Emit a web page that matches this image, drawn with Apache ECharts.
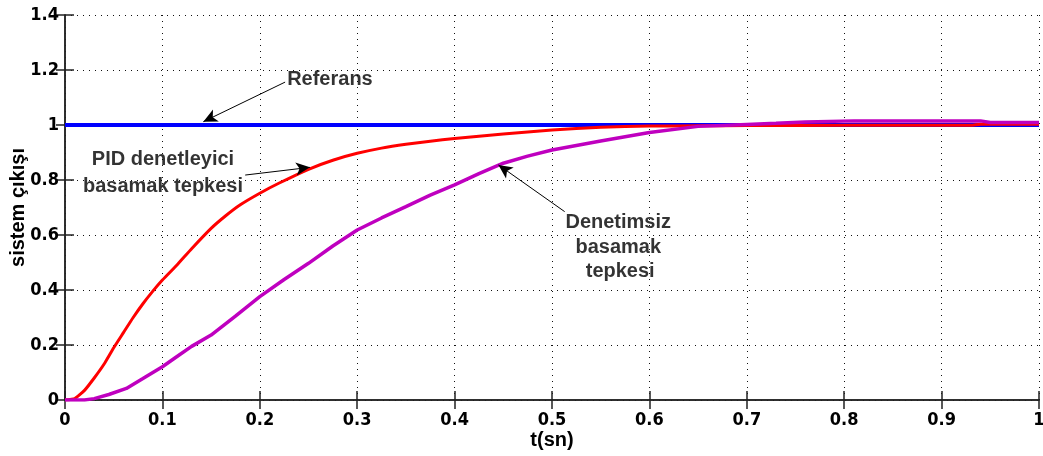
<!DOCTYPE html>
<html>
<head>
<meta charset="utf-8">
<script src="https://cdn.jsdelivr.net/npm/echarts@6/dist/echarts.min.js"></script>
<style>
  html, body { margin: 0; padding: 0; background: #fff; }
  #chart { width: 1043px; height: 456px; }
</style>
</head>
<body>
<div id="chart"></div>
<script>
// Step response: reference, PID-controlled and uncontrolled output
const refT = [0, 1];
const refV = [1, 1];

const pidT = [0, 0.01, 0.02, 0.03, 0.04, 0.05, 0.06, 0.07, 0.08, 0.09, 0.1, 0.115, 0.13, 0.15, 0.165, 0.18, 0.2, 0.22, 0.25, 0.275, 0.3, 0.325, 0.35, 0.375, 0.4, 0.45, 0.5, 0.55, 0.6, 0.65, 0.7, 0.8, 0.93, 0.94, 1];
const pidV = [0, 0.005, 0.035, 0.08, 0.13, 0.19, 0.245, 0.3, 0.35, 0.395, 0.436, 0.491, 0.55, 0.624, 0.67, 0.71, 0.752, 0.789, 0.839, 0.872, 0.897, 0.916, 0.93, 0.941, 0.951, 0.967, 0.982, 0.992, 0.996, 0.997, 0.998, 0.999, 0.999, 1.003, 1.003];

const openT = [0, 0.02, 0.03, 0.045, 0.063, 0.08, 0.1, 0.115, 0.13, 0.15, 0.175, 0.2, 0.225, 0.25, 0.275, 0.3, 0.325, 0.35, 0.375, 0.4, 0.425, 0.45, 0.475, 0.5, 0.55, 0.6, 0.65, 0.7, 0.73, 0.76, 0.81, 0.94, 0.95, 1];
const openV = [0, 0, 0.005, 0.02, 0.042, 0.078, 0.121, 0.158, 0.195, 0.236, 0.305, 0.376, 0.438, 0.497, 0.56, 0.618, 0.662, 0.703, 0.745, 0.782, 0.823, 0.861, 0.887, 0.909, 0.942, 0.973, 0.995, 1.002, 1.006, 1.011, 1.015, 1.015, 1.009, 1.009];

const xTicks = ['0', '0.1', '0.2', '0.3', '0.4', '0.5', '0.6', '0.7', '0.8', '0.9', '1'];
const yTicks = ['0', '0.2', '0.4', '0.6', '0.8', '1', '1.2', '1.4'];

const xName = 't(sn)';
const yName = 'sistem çıkışı';

// Text labels placed in data coordinates: [t, value, text]
const notes = [
  [0.272, 1.164, 'Referans'],
  [0.1006, 0.873, 'PID denetleyici'],
  [0.1006, 0.776, 'basamak tepkesi'],
  [0.568, 0.644, 'Denetimsiz'],
  [0.568, 0.554, 'basamak'],
  [0.570, 0.466, 'tepkesi']
];
// Arrows: [fromT, fromV, toT, toV]
const arrows = [
  [0.226, 1.156, 0.142, 1.012],
  [0.185, 0.818, 0.2515, 0.846],
  [0.513, 0.685, 0.445, 0.855]
];

const zip = (a, b) => a.map((v, i) => [v, b[i]]);
const tickFont = { fontFamily: "'Liberation Sans Narrow', 'DejaVu Sans Condensed', sans-serif", fontWeight: 'bold', fontSize: 18, color: '#000' };
const nameFont = { fontFamily: "'Liberation Sans', Arial, sans-serif", fontWeight: 'bold', fontSize: 20, color: '#000' };
const gridLine = { show: true, lineStyle: { color: '#111', width: 1, type: [1, 5] } };
const axisLine = { show: true, lineStyle: { color: '#222', width: 1.5 } };
const tick = { show: true, inside: true, length: 9, lineStyle: { color: '#222', width: 1.5 } };

const chart = echarts.init(document.getElementById('chart'), null, { renderer: 'canvas' });
chart.setOption({
  animation: false,
  backgroundColor: '#fff',
  grid: { left: 65, right: 4, top: 15, bottom: 56, containLabel: false, outerBoundsMode: 'none' },
  xAxis: [
    {
      type: 'value', min: 0, max: 1, interval: 0.1,
      name: xName, nameLocation: 'middle', nameGap: 30, nameTextStyle: nameFont,
      nameMoveOverlap: false,
      axisLine, axisTick: tick, splitLine: gridLine,
      axisLabel: { ...tickFont, margin: 11, formatter: (v) => xTicks[Math.round(v * 10)] }
    },
    {
      type: 'value', min: 0, max: 1, interval: 0.1, position: 'top',
      axisLine, axisTick: tick, splitLine: { show: false }, axisLabel: { show: false }
    }
  ],
  yAxis: [
    {
      type: 'value', min: 0, max: 1.4, interval: 0.2,
      name: yName, nameLocation: 'middle', nameGap: 37, nameTextStyle: nameFont,
      nameMoveOverlap: false,
      axisLine, axisTick: tick, splitLine: gridLine,
      axisLabel: { ...tickFont, margin: 6, formatter: (v) => yTicks[Math.round(v * 5)] }
    },
    {
      type: 'value', min: 0, max: 1.4, interval: 0.2, position: 'right',
      axisLine, axisTick: tick, splitLine: { show: false }, axisLabel: { show: false }
    }
  ],
  series: [
    {
      name: 'Referans', type: 'line', data: zip(refT, refV), showSymbol: false,
      lineStyle: { color: '#0000ff', width: 4 }, z: 2
    },
    {
      name: 'PID', type: 'line', data: zip(pidT, pidV), showSymbol: false, smooth: 0.15,
      lineStyle: { color: '#ff0000', width: 3 }, z: 3
    },
    {
      name: 'Denetimsiz', type: 'line', data: zip(openT, openV), showSymbol: false,
      lineStyle: { color: '#bf00bf', width: 3.5 }, z: 4
    },
    {
      name: 'notes', type: 'scatter', symbolSize: 0, z: 6, silent: true,
      data: notes.map((n) => ({ value: [n[0], n[1]], name: n[2] })),
      label: {
        show: true, position: [0, 0], align: 'center', verticalAlign: 'middle',
        formatter: (p) => p.name,
        fontFamily: "'Liberation Sans', Arial, sans-serif", fontWeight: 'bold', fontSize: 20, color: '#000'
      },
      markLine: {
        silent: true, animation: false,
        symbol: ['none', 'arrow'], symbolSize: [10, 14],
        label: { show: false },
        lineStyle: { color: '#000', width: 1, type: 'solid' },
        data: arrows.map((a) => [{ coord: [a[0], a[1]] }, { coord: [a[2], a[3]] }])
      }
    }
  ]
});
</script>
</body>
</html>
